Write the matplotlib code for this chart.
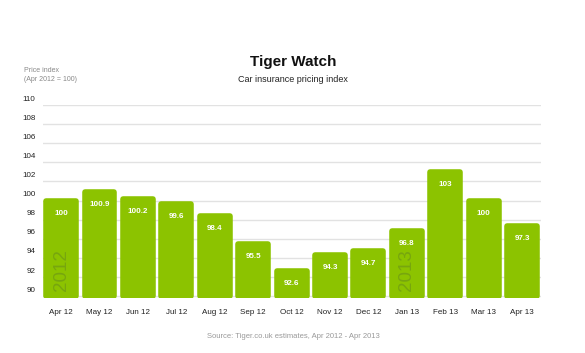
import numpy as np
import matplotlib
matplotlib.use("Agg")
import matplotlib.pyplot as plt
import matplotlib.transforms as mtransforms

months = ["Apr 12", "May 12", "Jun 12", "Jul 12", "Aug 12", "Sep 12", "Oct 12",
          "Nov 12", "Dec 12", "Jan 13", "Feb 13", "Mar 13", "Apr 13"]
values = [100, 100.9, 100.2, 99.6, 98.4, 95.5, 92.6, 94.3, 94.7, 96.8, 103, 100, 97.3]
labels = ["100", "100.9", "100.2", "99.6", "98.4", "95.5", "92.6",
          "94.3", "94.7", "96.8", "103", "100", "97.3"]
yticks = [90, 92, 94, 96, 98, 100, 102, 104, 106, 108, 110]

green = "#8cc300"
plt.rcParams['font.family'] = ['Liberation Sans', 'DejaVu Sans']

fig = plt.figure(figsize=(5.85, 3.53), dpi=100)
ax = fig.add_axes([43/585, 55/353, 498/585, 193/353])

x = np.arange(len(months))
base = 90.0
ax.bar(x, np.array(values) - base, bottom=base, width=0.78, color=green,
       edgecolor=green, linewidth=4, joinstyle='round', zorder=3)

for xi, v, lab in zip(x, values, labels):
    ax.annotate(lab, (xi, v), xytext=(0, -9), textcoords='offset points',
                ha='center', va='center', color='white', fontsize=5.8,
                fontweight='bold', zorder=4)

ax.text(0, 92.7, "2012", rotation=90, ha='center', va='center', fontsize=13.5,
        color='#50702a', alpha=0.35, zorder=4)
ax.text(9, 92.7, "2013", rotation=90, ha='center', va='center', fontsize=13.5,
        color='#50702a', alpha=0.35, zorder=4)

ax.set_xlim(-0.47, 12.49)
ax.set_ylim(89.8, 110)
ax.set_yticks(yticks)
ax.set_yticklabels([str(t) for t in yticks])
ax.set_xticks(x)
ax.set_xticklabels(months)
ax.tick_params(axis='both', length=0, labelsize=5.8, colors='#222222')
ax.tick_params(axis='x', pad=8)
ax.tick_params(axis='y', pad=5.5)
offset = mtransforms.ScaledTranslation(0, 5/72, fig.dpi_scale_trans)
for lbl in ax.get_yticklabels():
    lbl.set_transform(lbl.get_transform() + offset)
ax.yaxis.grid(True, color='#e2e2e2', linewidth=1, zorder=0)
ax.set_axisbelow(True)
for s in ax.spines.values():
    s.set_visible(False)

fig.text(293/585, 1 - 62/353, "Tiger Watch", ha='center', va='center',
         fontsize=11, fontweight='bold', color='#111111')
fig.text(293/585, 1 - 79/353, "Car insurance pricing index", ha='center',
         va='center', fontsize=6.5, color='#222222')
fig.text(24/585, 1 - 75/353, "Price index\n(Apr 2012 = 100)", ha='left',
         va='center', fontsize=5, color='#888888', linespacing=1.3)
fig.text(293/585, 1 - 336/353, "Source: Tiger.co.uk estimates, Apr 2012 - Apr 2013",
         ha='center', va='center', fontsize=5.5, color='#999999')

fig.savefig("out.png", dpi=100, facecolor='white')
